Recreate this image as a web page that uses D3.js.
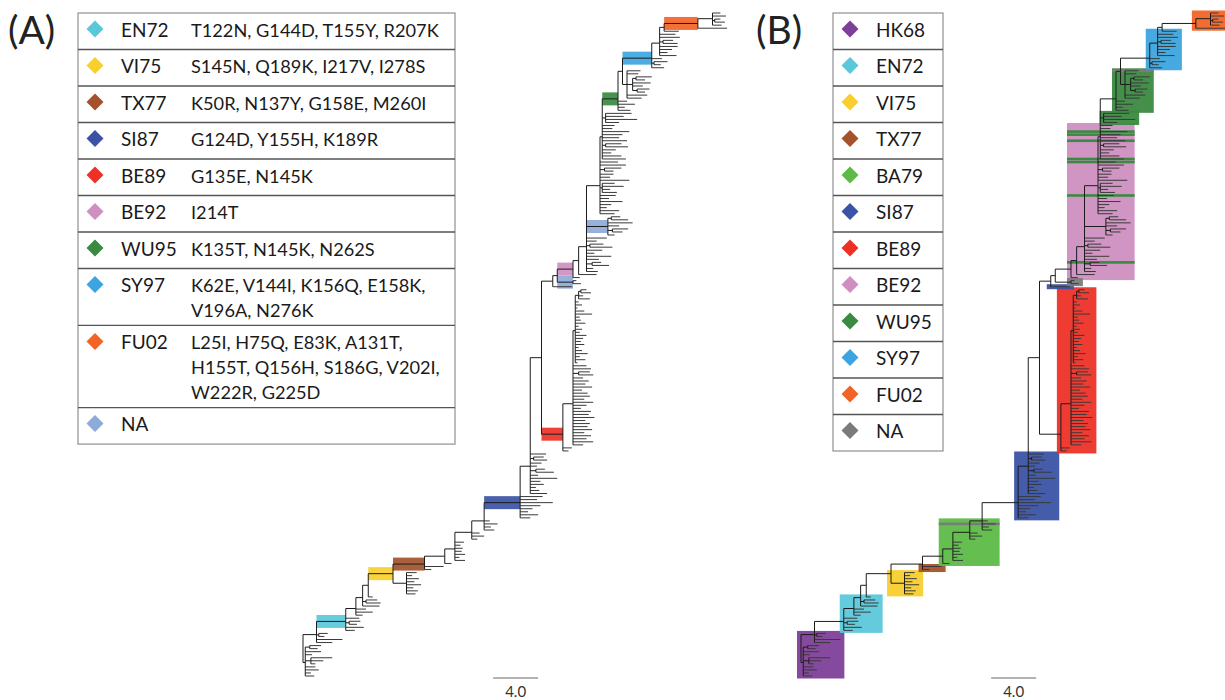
<!DOCTYPE html>
<html>
<head>
<meta charset="utf-8">
<script src="https://cdn.jsdelivr.net/npm/d3@7"></script>
<style>
  body { margin: 0; background: #fff; }
  svg { display: block; font-family: Lato, "Open Sans", sans-serif; }
</style>
</head>
<body>
<svg id="chart"></svg>
<script>
var svgWidth = 1225, svgHeight = 700;

// ---- legend data ----
var clustersA = ["EN72", "VI75", "TX77", "SI87", "BE89", "BE92", "WU95", "SY97", "FU02", "NA"];
var mutationsA = [
  ["T122N, G144D, T155Y, R207K"],
  ["S145N, Q189K, I217V, I278S"],
  ["K50R, N137Y, G158E, M260I"],
  ["G124D, Y155H, K189R"],
  ["G135E, N145K"],
  ["I214T"],
  ["K135T, N145K, N262S"],
  ["K62E, V144I, K156Q, E158K,", "V196A, N276K"],
  ["L25I, H75Q, E83K, A131T,", "H155T, Q156H, S186G, V202I,", "W222R, G225D"],
  []
];
var clustersB = ["HK68", "EN72", "VI75", "TX77", "BA79", "SI87", "BE89", "BE92", "WU95", "SY97", "FU02", "NA"];
var colours = {
  HK68: "#7E3F98", EN72: "#5BC8DA", VI75: "#F8CF2E", TX77: "#A3522B",
  BA79: "#5DBA47", SI87: "#3A53A4", BE89: "#EE3127", BE92: "#CF8FC1",
  WU95: "#3A8A41", SY97: "#3CA5DF", FU02: "#F26426"
};
var naColourA = "#8EAAD8", naColourB = "#7B7B7E";

// ---- tree data (branch lengths, same tree in both panels) ----
// leaf = length, [len, children...] = node, {len, a, b, kids} = labelled node
// a = mutation band in (A), b = cluster box in (B); leaf suffix w/n = WU95 / NA leaf in (B)
var redClade = {len: 1.9, a: "BE89", b: "BE89", kids: [
  [0.9,
    [0.2, [0.3, [0.2, 0.5, 0.9], 0.4, 1.0], 0.3, 0.6, 0.2, 0.8, 1.5, 0.4, 0.5, 0.9, 0.3, 0.6,
      0.4, 1.0, 0.7, 0.5, 0.8, 0.3, 0.6, 1.1, 0.4, 0.9, 0.2],
    1.2, 1.6, [0.5, 1.0, 1.3], 0.9, 1.4, 1.1, 1.7, 0.8, 1.3, 1.5, 1.0, 1.8, 1.2, 0.7, 1.6,
    1.4, 1.9, 1.1, 1.5, 1.3, 1.7, 1.0, 1.6, 1.2, 1.8, 0.9],
  0.8, 0.5]};
var naClade1 = {len: 1.4, a: "NA", b: "NA", kids: [0.3, 0.7]};
var naClade2 = {len: 1.9, a: "NA", kids: [[0.3, 0.8, 1.5], 2.2, 1.0, [0.4, 1.4, 0.9], 0.6]};
var wuClade2 = {len: 0.3, b: "WU95", kids: [2.3, 1.6, 2.8, 1.2]};

var trunk = [
  {len: 0,   b: "HK68", side: [[0.2, [0.4, 1.0, 0.7], 1.4, 0.6, [0.5, 1.9, 1.1, 0.4], 0.9, 1.2, 0.5, 0.8]]},
  {len: 1.2, side: [[0.2, 0.8, 0.5], 2.3, 1.4]},
  {len: 2.6, a: "EN72", b: "EN72", side: [1.2, [0.3, 1.0, 0.7], 1.6, 0.8]},
  {len: 0.9, side: [0.9, 1.5, 0.6]},
  {len: 0.6, side: [[0.3, 1.0, 1.3], 1.5]},
  {len: 0.5, side: [0.4]},
  {len: 2.2, a: "VI75", b: "VI75", side: [[1.2, 0.9, 0.5, 1.1, 0.7, 1.3, 0.6, 1.0, 0.8]]},
  {len: 2.8, a: "TX77", b: "TX77", side: [1.7, 0.6]},
  {len: 1.8, b: "BA79", side: [0.6]},
  {len: 0.9, side: [0.8, 0.5, 0.7, 0.6, 0.9, 0.4, 0.9]},
  {len: 1.5, side: [0.7, 1.1, 0.5]},
  {len: 1.1, side: [0.5, "1.2n", 0.6, 0.9]},
  {len: 3.2, a: "SI87", b: "SI87", side: [2.0, 1.5, 2.9, 1.8, 1.1, 0.7, 1.6, 0.9]},
  {len: 0.9, side: [1.4, [0.3, 0.9, 1.2], 1.0, 0.6, [0.5, 0.8, 1.6], 0.7, 2.4, 0.9, 1.2, 0.5, 0.8, 1.5]},
  {len: 1.0, side: [redClade]},
  {len: 1.0, side: [{len: 1.7, b: "SI87"}]},
  {len: 0.4, side: [naClade1]},
  {len: 1.4, a: "BE92", b: "BE92", side: [0.6]},
  {len: 0.5, side: [1.6]},
  {len: 0.7, side: [naClade2, 1.8, 0.9, [0.3, 1.2, 2.0], 1.4, 0.7, 2.2, 1.1, [0.5, "0.8w", 1.5], 0.6, 1.0]},
  {len: 1.2, side: ["1.6w", 2.3, [0.4, 1.5, 0.8], 1.2, 0.9, 2.6, [0.2, 1.1, 1.9, 0.7, 1.3], "1.4w", 0.8, 2.0, 1.0, 0.6, 1.7, 1.3]},
  {len: 0.2, side: [wuClade2, 1.1, 0.9, "2.4w", "1.8w", 1.5, "2.2w", [0.3, 1.4, 2.0], 1.2, 0.8, 1.7, "2.1w"]},
  {len: 1.4, a: "WU95", b: "WU95", side: [0.8, 1.5, 0.6, 1.1]},
  {len: 0.4, side: [[0.4, "1.2n", 1.0, [0.5, [0.3, 1.4, 0.8], 1.6, 0.9, [0.4, 1.1, 0.7]], 1.8, 1.3]]},
  {len: 2.6, a: "SY97", b: "SY97", side: [0.9, [0.2, 1.2, 0.6], 1.1]},
  {len: 0.7, side: [1.4, 1.8, [0.3, 0.9, 1.3], 1.6, 1.1, 0.7, 1.5]},
  {len: 0.4, side: [1.3]},
  {len: 3.0, a: "FU02", b: "FU02", side: [2.6]},
  {len: 1.3, side: [0.7, 1.2, [0.2, 0.5, 0.9], 0.8]}
];
var scaleBarStart = 16.9, scaleBarLength = 4.0;

// ---- build hierarchy ----
function parseItem(item) {
  if (typeof item === "number" || typeof item === "string") {
    return {len: parseFloat(item), mark: typeof item === "string" ? item.replace(/[\d.]/g, "") : null};
  }
  if (Array.isArray(item)) return {len: item[0], children: item.slice(1).map(parseItem)};
  var n = {len: item.len, a: item.a, b: item.b};
  if (item.kids && item.kids.length) n.children = item.kids.map(parseItem);
  return n;
}
function buildTree() {
  var node = null;
  for (var i = trunk.length - 1; i >= 0; i--) {
    var t = trunk[i];
    node = {len: t.len, a: t.a, b: t.b, children: (node ? [node] : []).concat(t.side.map(parseItem))};
  }
  return node;
}

var root = d3.hierarchy(buildTree());
var nLeaves = root.leaves().length;
d3.cluster().size([nLeaves, 1]).separation(function() { return 1; })(root);
root.eachBefore(function(d) { d.dist = d.parent ? d.parent.dist + d.data.len : 0; });
root.leaves().forEach(function(d, i) { d.rank = i; });

var yTree = d3.scaleLinear().domain([0.5, nLeaves - 0.5]).range([13, 676]);
var xA = d3.scaleLinear().domain([0, 4]).range([303, 348]);
var xB = d3.scaleLinear().domain([0, 4]).range([801, 846]);

var svg = d3.select("#chart")
  .attr("width", svgWidth)
  .attr("height", svgHeight);

// ---- panel letters ----
svg.append("text").attr("x", 8).attr("y", 44).attr("font-size", 39).attr("fill", "#222").text("(A)");
svg.append("text").attr("x", 756).attr("y", 44).attr("font-size", 39).attr("fill", "#222").text("(B)");

// ---- legends ----
function drawLegend(x0, width, codes, muts, colourOf) {
  var g = svg.append("g");
  var top = 13;
  var rows = codes.map(function(c, i) {
    var lines = muts ? muts[i] : [];
    var h = Math.max(36.5, 31.6 + 25.3 * (lines.length - 1));
    var r = {code: c, lines: lines, top: top, h: h};
    top += h;
    return r;
  });
  g.append("rect").attr("x", x0).attr("y", 13).attr("width", width).attr("height", top - 13)
    .attr("fill", "none").attr("stroke", "#999").attr("stroke-width", 1.3);
  g.selectAll("line.sep").data(rows.slice(1)).enter().append("line")
    .attr("x1", x0).attr("x2", x0 + width)
    .attr("y1", function(d) { return d.top; }).attr("y2", function(d) { return d.top; })
    .attr("stroke", "#555").attr("stroke-width", 1.3);
  var row = g.selectAll("g.row").data(rows).enter().append("g")
    .attr("transform", function(d) { return "translate(" + x0 + "," + d.top + ")"; });
  row.append("path")
    .attr("d", d3.symbol().type(d3.symbolSquare).size(145))
    .attr("transform", "translate(17,16) rotate(45)")
    .attr("fill", function(d) { return colourOf(d.code); });
  row.append("text").attr("x", 43).attr("y", 23.5).attr("font-size", 19).attr("fill", "#1a1a1a")
    .text(function(d) { return d.code; });
  row.selectAll("text.mut").data(function(d) { return d.lines; }).enter().append("text")
    .attr("x", 113).attr("y", function(d, i) { return 23.5 + i * 25.3; })
    .attr("font-size", 18.2).attr("fill", "#1a1a1a")
    .text(function(d) { return d; });
}
drawLegend(78, 377, clustersA, mutationsA, function(c) { return c === "NA" ? naColourA : colours[c]; });
drawLegend(833, 110, clustersB, null, function(c) { return c === "NA" ? naColourB : colours[c]; });

// ---- cluster boxes for (B) ----
function clusterBoxes() {
  var boxes = [];
  root.descendants().filter(function(d) { return d.data.b; }).forEach(function(d) {
    var own = d.leaves().filter(function(l) {
      for (var p = l; p !== d; p = p.parent) if (p.data.b) return false;
      return true;
    });
    var runs = [], cur = null;
    own.forEach(function(l) {
      if (cur && l.rank === cur[cur.length - 1].rank + 1) cur.push(l);
      else { cur = [l]; runs.push(cur); }
    });
    runs.forEach(function(r) {
      boxes.push({code: d.data.b, d0: d.children ? d.dist : d.parent.dist,
        d1: d3.max(r, function(l) { return l.dist; }), top: r[0].x, bottom: r[r.length - 1].x, leaves: r});
    });
  });
  return boxes;
}

function drawTree(xs, panel) {
  var g = svg.append("g");
  if (panel === "A") {
    var banded = root.descendants().filter(function(d) { return d.data.a && d.parent; });
    g.selectAll("rect.band").data(banded).enter().append("rect")
      .attr("x", function(d) { return xs(d.parent.dist); })
      .attr("width", function(d) { return xs(d.dist) - xs(d.parent.dist); })
      .attr("y", function(d) { return yTree(d.x) - 6.5; })
      .attr("height", 13)
      .attr("fill", function(d) { return d.data.a === "NA" ? naColourA : colours[d.data.a]; })
      .attr("opacity", 0.92);
  } else {
    var boxes = clusterBoxes();
    g.selectAll("rect.box").data(boxes).enter().append("rect")
      .attr("x", function(d) { return xs(d.d0) - 4; })
      .attr("width", function(d) { return xs(d.d1) - xs(d.d0) + 8; })
      .attr("y", function(d) { return yTree(d.top) - 2.5; })
      .attr("height", function(d) { return yTree(d.bottom) - yTree(d.top) + 5; })
      .attr("fill", function(d) { return d.code === "NA" ? naColourB : colours[d.code]; })
      .attr("opacity", 0.95);
    var stripes = [];
    boxes.forEach(function(b) {
      b.leaves.forEach(function(l) { if (l.data.mark) stripes.push({box: b, leaf: l}); });
    });
    g.selectAll("rect.stripe").data(stripes).enter().append("rect")
      .attr("x", function(d) { return xs(d.box.d0) - 4; })
      .attr("width", function(d) { return xs(d.box.d1) - xs(d.box.d0) + 8; })
      .attr("y", function(d) { return yTree(d.leaf.x) - 1.3; })
      .attr("height", 2.6)
      .attr("fill", function(d) { return d.leaf.data.mark === "w" ? colours.WU95 : naColourB; });
  }
  var links = root.descendants().filter(function(d) { return d.parent; });
  g.selectAll("path.h").data(links).enter().append("path")
    .attr("d", function(d) { return "M" + xs(d.parent.dist) + "," + yTree(d.x) + "H" + xs(d.dist); })
    .attr("fill", "none")
    .attr("stroke", function(d) { return d.children ? "#1c1c1c" : "#3a3a3a"; })
    .attr("stroke-width", 1);
  var inner = root.descendants().filter(function(d) { return d.children; });
  g.selectAll("path.v").data(inner).enter().append("path")
    .attr("d", function(d) {
      return "M" + xs(d.dist) + "," + yTree(d.children[0].x) + "V" + yTree(d.children[d.children.length - 1].x);
    })
    .attr("fill", "none").attr("stroke", "#1c1c1c").attr("stroke-width", 1);

  // scale bar
  g.append("line")
    .attr("x1", xs(scaleBarStart)).attr("x2", xs(scaleBarStart + scaleBarLength))
    .attr("y1", 678).attr("y2", 678)
    .attr("stroke", "#9a9a9a").attr("stroke-width", 1.5);
  g.append("text")
    .attr("x", xs(scaleBarStart + scaleBarLength / 2)).attr("y", 697)
    .attr("text-anchor", "middle").attr("font-size", 15).attr("fill", "#333")
    .text(scaleBarLength.toFixed(1));
}
drawTree(xA, "A");
drawTree(xB, "B");
</script>
</body>
</html>
